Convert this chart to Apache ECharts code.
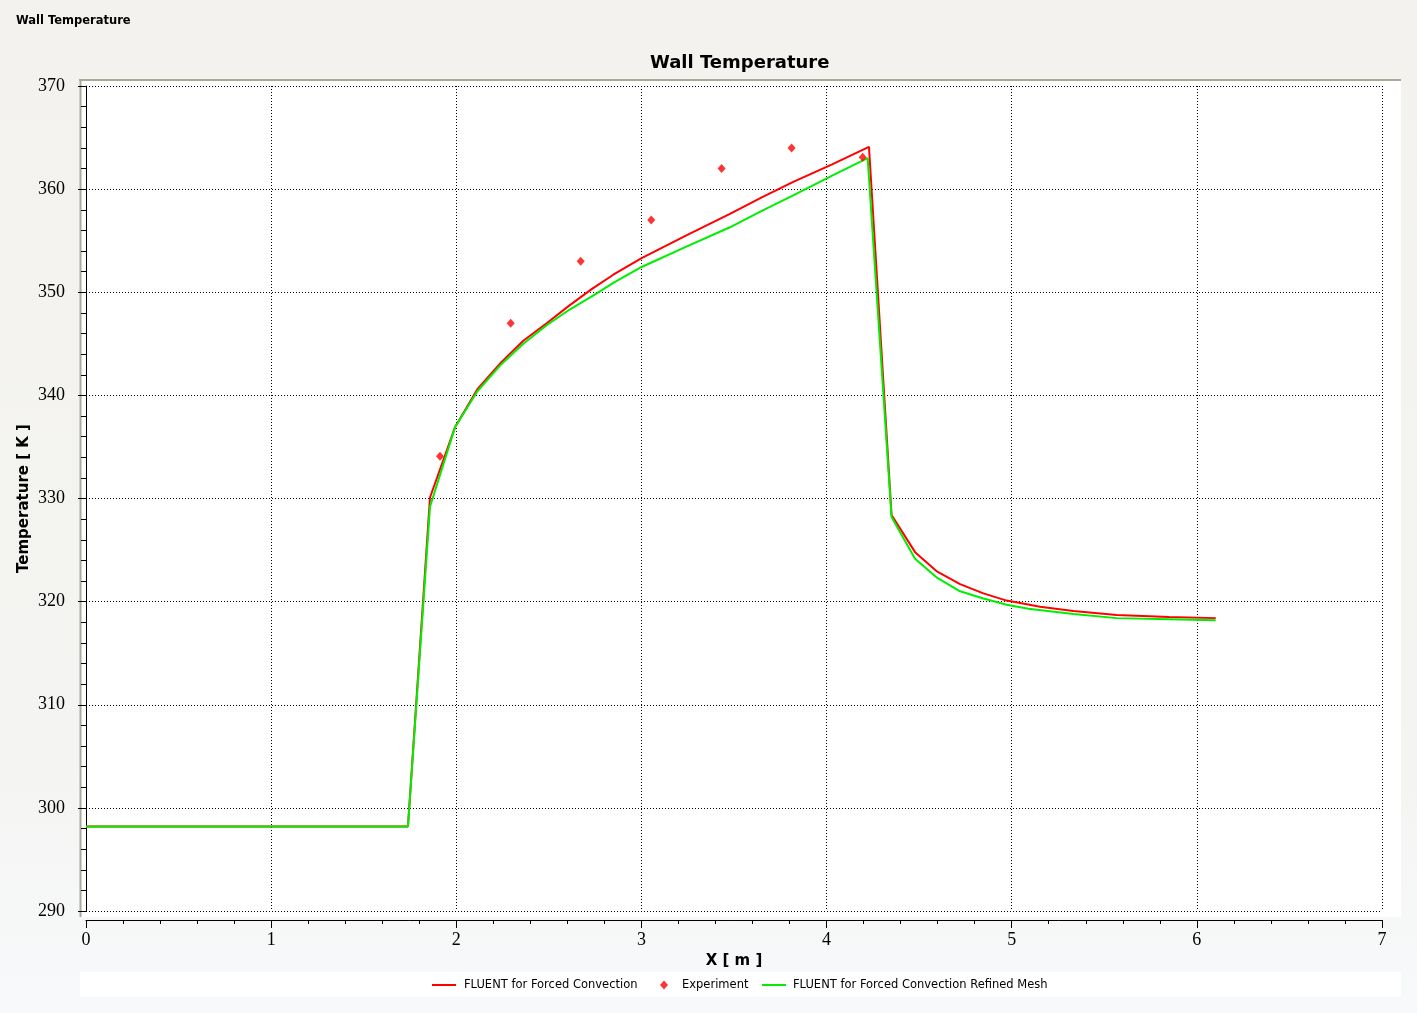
<!DOCTYPE html>
<html>
<head>
<meta charset="utf-8">
<title>Wall Temperature</title>
<script src="https://cdn.jsdelivr.net/npm/echarts@6.0.0/dist/echarts.min.js"></script>
<style>
  html, body { margin: 0; padding: 0; }
  #chart { width: 1417px; height: 1013px; }
</style>
</head>
<body>
<div id="chart"></div>
<script>
// values
var coarseX = [0, 1.739, 1.858, 1.993, 2.114, 2.242, 2.362, 2.488, 2.61, 2.731, 2.848, 3.001, 3.24, 3.478, 3.65, 3.82, 4.03, 4.229,
               4.351, 4.478, 4.598, 4.721, 4.847, 4.973, 5.153, 5.333, 5.567, 5.85, 6.102];
var coarseT = [298.2, 298.2, 330.1, 336.9, 340.6, 343.2, 345.3, 347.0, 348.7, 350.3, 351.7, 353.3, 355.5, 357.6, 359.2, 360.7, 362.4, 364.1,
               328.4, 324.8, 322.9, 321.7, 320.8, 320.1, 319.5, 319.1, 318.7, 318.5, 318.4];

var refinedX = [0, 1.739, 1.858, 1.993, 2.114, 2.242, 2.362, 2.488, 2.61, 2.75, 2.848, 3.001, 3.24, 3.478, 3.65, 3.82, 4.03, 4.222,
                4.351, 4.478, 4.598, 4.721, 4.847, 4.973, 5.09, 5.333, 5.567, 5.85, 6.102];
var refinedT = [298.2, 298.2, 329.2, 336.9, 340.4, 343.0, 345.0, 346.8, 348.3, 349.8, 350.9, 352.45, 354.4, 356.3, 357.9, 359.4, 361.3, 363.0,
                328.2, 324.15, 322.3, 321.0, 320.3, 319.7, 319.3, 318.8, 318.4, 318.3, 318.2];

var expX = [1.912, 2.294, 2.672, 3.053, 3.433, 3.811, 4.195];
var expT = [334.1, 347.0, 353.0, 357.0, 362.0, 364.0, 363.1];

var names = ['FLUENT for Forced Convection', 'Experiment', 'FLUENT for Forced Convection Refined Mesh'];

function pairs(xs, ys) {
    return xs.map(function (x, i) { return [x, ys[i]]; });
}

var chart = echarts.init(document.getElementById('chart'), null, { renderer: 'canvas' });

var axisFont = {
    fontFamily: 'Liberation Serif',
    fontSize: 18,
    color: '#000'
};
var gridLine = {
    show: true,
    lineStyle: { color: '#000', type: [1, 2], width: 1 }
};
var legendText = { fontFamily: 'DejaVu Sans', fontSize: 11.5, color: '#000' };

chart.setOption({
    animation: false,
    backgroundColor: {
        type: 'linear', x: 0, y: 0, x2: 0, y2: 1,
        colorStops: [
            { offset: 0, color: '#f3f2ee' },
            { offset: 0.75, color: '#f4f4f2' },
            { offset: 1, color: '#f8f9fb' }
        ]
    },
    title: [{
        text: 'Wall Temperature',
        left: 16,
        top: 15,
        padding: 0,
        textStyle: { fontFamily: 'DejaVu Sans', fontSize: 11.5, fontWeight: 'bold', color: '#000' }
    }, {
        text: 'Wall Temperature',
        left: 650,
        top: 54,
        padding: 0,
        textStyle: { fontFamily: 'DejaVu Sans', fontSize: 18, fontWeight: 'bold', color: '#000' }
    }],
    graphic: [
        { type: 'rect', z: -2, shape: { x: 80, y: 80, width: 1321, height: 837 }, style: { fill: '#ffffff' } },
        { type: 'line', z: -1, shape: { x1: 79, y1: 80, x2: 1401, y2: 80 }, style: { stroke: '#aca899', lineWidth: 2 } },
        { type: 'line', z: -1, shape: { x1: 80.5, y1: 80, x2: 80.5, y2: 917 }, style: { stroke: '#aca899', lineWidth: 2 } },
        { type: 'rect', z: -2, shape: { x: 80, y: 972, width: 1321, height: 25 }, style: { fill: '#ffffff' } }
    ],
    legend: [{
        data: [{ name: names[0], icon: 'rect' }],
        left: 432, top: 979, padding: 0,
        itemWidth: 24, itemHeight: 2,
        textStyle: Object.assign({ padding: [0, 0, 0, 3] }, legendText)
    }, {
        data: [{ name: names[1], icon: 'diamond' }],
        left: 660, top: 979, padding: 0,
        itemWidth: 8, itemHeight: 9,
        textStyle: Object.assign({ padding: [0, 0, 0, 9] }, legendText)
    }, {
        data: [{ name: names[2], icon: 'rect' }],
        left: 762, top: 979, padding: 0,
        itemWidth: 24, itemHeight: 2,
        textStyle: Object.assign({ padding: [0, 0, 0, 2] }, legendText)
    }],
    grid: { left: 86, right: 35, top: 86, bottom: 102 },
    xAxis: {
        type: 'value',
        min: 0, max: 7, interval: 1,
        offset: 9,
        name: 'X [ m ]',
        nameLocation: 'middle',
        nameGap: 34,
        nameMoveOverlap: false,
        nameTextStyle: { fontFamily: 'DejaVu Sans', fontSize: 15, fontWeight: 'bold', color: '#000' },
        axisLine: { show: true, lineStyle: { color: '#000', width: 1 } },
        axisTick: { show: true, length: 8, lineStyle: { color: '#000' } },
        minorTick: { show: true, splitNumber: 5, length: 4, lineStyle: { color: '#000' } },
        axisLabel: Object.assign({ margin: 11 }, axisFont),
        splitLine: gridLine
    },
    yAxis: {
        type: 'value',
        min: 290, max: 370, interval: 10,
        offset: 9,
        name: 'Temperature [ K ]',
        nameLocation: 'middle',
        nameRotate: 90,
        nameGap: 45,
        nameMoveOverlap: false,
        nameTextStyle: { fontFamily: 'DejaVu Sans', fontSize: 15, fontWeight: 'bold', color: '#000' },
        axisLine: { show: true, lineStyle: { color: '#000', width: 1 } },
        axisTick: { show: true, length: 8, lineStyle: { color: '#000' } },
        minorTick: { show: true, splitNumber: 5, length: 5, lineStyle: { color: '#000' } },
        axisLabel: Object.assign({ margin: 12 }, axisFont),
        splitLine: gridLine
    },
    series: [{
        name: names[0],
        type: 'line',
        data: pairs(coarseX, coarseT),
        showSymbol: false,
        symbol: 'none',
        lineStyle: { color: '#ff0000', width: 2 },
        itemStyle: { color: '#ff0000' },
        z: 2
    }, {
        name: names[1],
        type: 'scatter',
        data: pairs(expX, expT),
        symbol: 'diamond',
        symbolSize: [8, 9],
        itemStyle: { color: '#ff0000' },
        z: 4
    }, {
        name: names[2],
        type: 'line',
        data: pairs(refinedX, refinedT),
        showSymbol: false,
        symbol: 'none',
        lineStyle: { color: '#00ee00', width: 2 },
        itemStyle: { color: '#00ee00' },
        z: 3
    }]
});
</script>
</body>
</html>
